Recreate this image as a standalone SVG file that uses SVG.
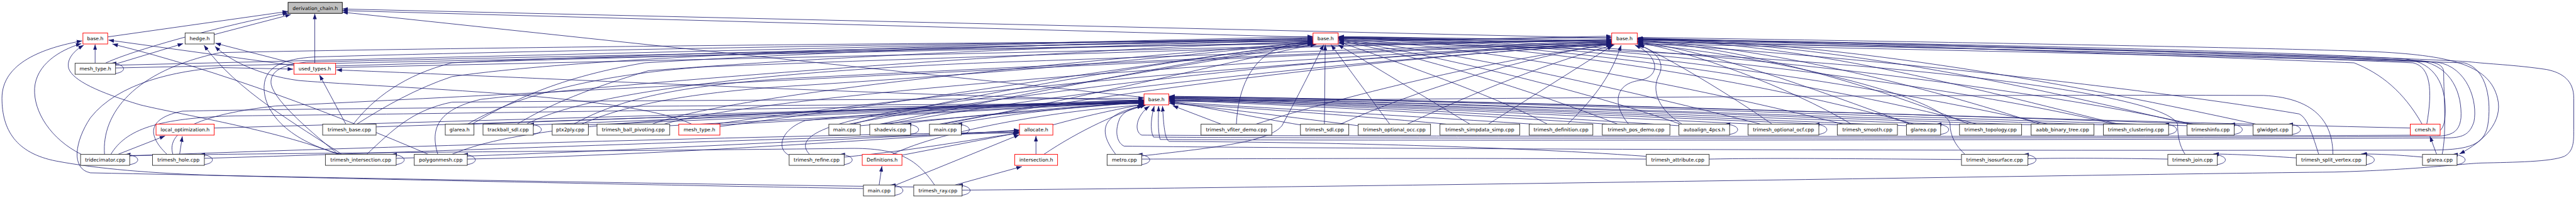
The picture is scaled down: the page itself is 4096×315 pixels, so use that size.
<svg xmlns="http://www.w3.org/2000/svg" width="4096" height="315" viewBox="0 0 4096 315">
<defs>
<marker id="a" viewBox="0 0 14 10" refX="14" refY="5" markerWidth="14" markerHeight="10" markerUnits="userSpaceOnUse" orient="auto"><path d="M0,0 L14,5 L0,10 z" fill="#191970"/></marker>
<style>
.e path{fill:none;stroke:#191970;stroke-width:1.3;marker-end:url(#a)}
.e path.p{marker-end:none}
rect{fill:#fff;stroke:#333;stroke-width:1.5}
rect.r{stroke:#ff0000}
rect.root{fill:#bfbfbf;stroke:#000}
text{font-family:"DejaVu Sans","Liberation Sans",sans-serif;font-size:12.5px;text-anchor:middle;fill:#000}
</style>
</defs>
<rect x="0" y="0" width="4096" height="315" style="fill:#fff;stroke:none"/>
<g transform="scale(0.6249)">
<g id="edges" class="e">
<path d="M274,94 L733,29"/>
<path d="M268,161 C320,135 520,75 733,33"/>
<path d="M545,88 L740,37"/>
<path d="M801,161 L801,35"/>
<path d="M2911,248 L871,31"/>
<path d="M3341,95 L871,27"/>
<path d="M4101,97 L871,23"/>
<path d="M242,161 L242,113"/>
<path d="M207,393 C130,355 85,285 88,225 C92,165 150,128 207,111"/>
<path d="M748,167 L276,102"/>
<path d="M2197,480 C1600,470 900,455 560,447 C380,441 250,430 143,410 C40,390 5,330 5,250 C5,160 110,122 209,104"/>
<path d="M861,393 C700,330 450,290 357,267 C250,235 186,205 175,175 C168,150 190,128 213,115"/>
<path d="M294,163 L466,111"/>
<path d="M750,162 L548,110"/>
<path d="M870,393 C760,320 600,230 519,115"/>
<path d="M1760,316 C1600,240 1000,225 760,205 C650,190 580,150 547,118"/>
<path d="M880,316 L813,191"/>
<path d="M2911,256 C2200,240 1300,195 856,178"/>
<path d="M854,168 L3341,96"/>
<path d="M294,166 L3341,93"/>
<path d="M294,173 L4101,92"/>
<path d="M854,172 L4101,100"/>
<path d="M1090,393 C850,290 560,180 286,112"/>
<path d="M300,393 L420,346"/>
<path d="M282,393 C320,330 400,300 600,295 C1500,285 2500,268 2911,262"/>
<path d="M330,397 C900,375 2000,345 2594,336"/>
<path d="M266,393 C258,290 340,180 560,134 C1200,120 2500,108 3341,104"/>
<path d="M457,393 L464,347"/>
<path d="M425,393 C370,340 380,300 464,283 C800,275 2200,266 2911,264"/>
<path d="M520,403 C1000,390 2000,350 2594,338"/>
<path d="M440,393 C420,330 520,290 700,270 C1500,230 3000,150 4101,108"/>
<path d="M545,326 L2911,259"/>
<path d="M868,393 C740,360 670,290 672,220 C674,170 720,150 800,145 C1500,125 2800,105 3341,100"/>
<path d="M861,393 C800,343 700,260 690,215 C685,180 720,165 780,158 C1600,140 3000,110 4101,104"/>
<path d="M933,393 C1000,330 1050,280 1150,260 C1800,255 2500,252 2911,250"/>
<path d="M1008,403 C1500,390 2200,350 2594,333"/>
<path d="M1114,393 C1095,330 1110,280 1223,253 C1700,200 2800,120 3341,106"/>
<path d="M1150,393 C1300,330 1600,290 2911,256"/>
<path d="M1189,405 C1700,395 2300,350 2594,331"/>
<path d="M908,316 C980,270 1060,225 1150,195 C1600,130 2800,105 3341,98"/>
<path d="M899,316 C950,250 1030,190 1150,160 C2000,120 3500,100 4101,96"/>
<path d="M957,323 L2911,258"/>
<path d="M1201,316 C1280,270 1400,200 1640,160 C2300,120 3000,105 3341,101"/>
<path d="M1206,316 L2911,254"/>
<path d="M1190,316 C1300,250 1500,190 1800,170 C2800,130 3700,110 4101,102"/>
<path d="M1316,316 C1400,265 1500,225 1650,180 C2300,130 3000,110 3341,103"/>
<path d="M1357,318 L2911,256"/>
<path d="M1340,316 C1500,230 2000,180 2500,160 C3200,135 3800,115 4101,105"/>
<path d="M1497,318 L2911,257"/>
<path d="M1460,316 C1560,260 1700,220 2000,200 C3000,150 3700,120 4101,107"/>
<path d="M1480,316 C1560,280 1700,240 2000,220 C2800,170 3200,120 3341,107"/>
<path d="M1704,320 L2911,258"/>
<path d="M1660,316 C1800,260 2400,180 3341,108"/>
<path d="M1690,316 C1900,250 3000,160 4101,110"/>
<path d="M1832,318 L2911,259"/>
<path d="M1832,322 C2300,260 3000,150 3341,110"/>
<path d="M1820,316 C2400,230 3500,140 4101,111"/>
<path d="M2189,320 L2911,260"/>
<path d="M2170,316 C2400,250 3000,150 3341,109"/>
<path d="M2160,316 C2600,230 3500,130 4101,112"/>
<path d="M2290,316 C2500,290 2800,265 2911,261"/>
<path d="M2260,316 C2700,230 3600,140 4101,113"/>
<path d="M2240,316 C2600,240 3100,140 3341,111"/>
<path d="M2420,316 C2600,285 2800,265 2911,262"/>
<path d="M2400,316 C2800,240 3200,140 3348,113"/>
<path d="M2390,316 C2900,220 3700,130 4105,113"/>
<path d="M2679,318 C2780,290 2860,275 2911,265"/>
<path d="M2008,395 C1975,380 1985,330 2049,307 C2300,280 2700,265 2911,263"/>
<path d="M2148,400 C2350,380 2500,350 2594,339"/>
<path d="M2060,393 C2000,330 2200,290 2500,250 C2900,190 3200,130 3350,113"/>
<path d="M2295,395 L2592,338"/>
<path d="M2270,393 C2400,330 2700,280 2913,267"/>
<path d="M2636,393 L2636,346"/>
<path d="M2656,393 C2750,330 2850,285 2915,268"/>
<path d="M2237,471 L2244,423"/>
<path d="M2277,472 L2594,343"/>
<path d="M2430,471 L2600,424"/>
<path d="M2325,476 C1500,465 800,452 230,440 C180,430 190,360 230,300 C300,210 450,180 560,172 L746,176"/>
<path class="p" d="M2378,471 C2330,400 2280,375 2150,378 C1500,385 700,390 331,396"/>
<path d="M3107,316 L2984,269"/>
<path d="M3146,316 C3150,230 3180,150 3260,120 C3290,110 3320,106 3341,104"/>
<path d="M3196,316 C3400,250 3800,150 4101,114"/>
<path d="M3370,316 L3372,114"/>
<path d="M3309,318 C3200,300 3050,270 2976,258"/>
<path d="M3411,316 C3600,230 3900,140 4101,111"/>
<path d="M3536,316 L3387,114"/>
<path d="M3581,316 C3700,260 3900,170 4108,114"/>
<path d="M3456,320 C3300,300 3100,275 2976,262"/>
<path d="M3740,316 L3405,114"/>
<path d="M3787,316 L4103,116"/>
<path d="M3680,316 C3400,290 3100,270 2975,263"/>
<path d="M3989,316 C4066,240 4101,187 4125,115"/>
<path d="M3937,316 C3800,240 3500,140 3406,106"/>
<path d="M3900,316 C3500,290 3100,268 2975,259"/>
<path d="M4144,316 C4105,270 4105,215 4170,205 C4230,195 4220,140 4160,115"/>
<path d="M4116,316 C3900,230 3600,140 3406,103"/>
<path d="M4090,316 C3700,290 3200,262 2975,256"/>
<path d="M4280,316 C4220,280 4200,230 4222,190 C4240,150 4200,125 4170,114"/>
<path d="M4273,315 C4000,220 3600,130 3406,101"/>
<path d="M4272,320 C3800,290 3300,262 2975,255"/>
<path d="M4509,316 C4400,240 4250,150 4166,112"/>
<path d="M4480,316 C4100,220 3700,130 3406,100"/>
<path d="M4460,316 C3900,290 3300,260 2975,254"/>
<path d="M4711,316 C4550,220 4300,130 4166,108"/>
<path d="M4690,316 C4300,220 3800,120 3406,99"/>
<path d="M4680,318 C4000,290 3300,258 2975,252"/>
<path d="M4860,316 C4600,220 4350,130 4166,106"/>
<path d="M4851,320 C4100,290 3400,258 2975,251"/>
<path d="M4870,316 C4500,210 3900,110 3406,98"/>
<path d="M5010,316 C4800,230 4450,120 4166,104"/>
<path d="M4995,318 C4200,290 3400,257 2975,250"/>
<path d="M5030,316 C4600,200 3900,105 3406,97"/>
<path d="M5190,316 C4900,220 4500,120 4166,102"/>
<path d="M5210,316 C4700,200 4000,105 3406,96"/>
<path d="M5175,318 C4300,290 3500,255 2975,249"/>
<path d="M5390,316 C5000,220 4600,110 4166,100"/>
<path d="M5380,316 C4900,200 4000,100 3406,95"/>
<path d="M5360,318 C4400,290 3500,255 2975,248"/>
<path d="M5570,316 C5200,230 4700,110 4166,99"/>
<path d="M5580,316 C5000,190 4000,95 3406,94"/>
<path d="M5565,320 C4600,290 3600,252 2975,247"/>
<path d="M5740,316 C5300,220 4700,105 4166,98"/>
<path d="M5733,320 C4800,290 3700,252 2975,246"/>
<path d="M6133,326 C5000,300 3800,255 2975,245"/>
<path d="M6163,316 C6116,233 6058,187 5990,160 C5500,140 4500,105 4166,97"/>
<path d="M6175,316 C6190,230 6185,170 6140,160 C5500,130 4000,100 3406,93"/>
<path d="M2839,393 C2793,333 2800,290 2908,270"/>
<path d="M2905,397 C3100,375 3230,360 3262,320 C3300,250 3340,170 3368,114"/>
<path d="M4189,398 C3800,370 3300,362 2975,360 C2962,355 2960,300 2958,270"/>
<path d="M5000,393 C4975,370 4962,345 4962,316 C4955,250 4500,140 4168,112"/>
<path d="M5560,393 C5545,370 5541,345 5541,316 C5500,220 4500,120 3406,110"/>
<path d="M5936,393 C5936,320 5900,250 5760,243 C5000,240 3800,250 2976,258"/>
<path d="M5900,393 C5880,330 5870,300 5850,290 C5500,230 4700,140 4168,110"/>
<path d="M6200,393 L6183,347"/>
<path d="M6164,400 C6100,394 6050,392 6008,392"/>
<path d="M6214,393 C6226,340 6218,240 6218,185 C6218,165 6200,157 6150,154 C5500,130 4700,105 4168,101"/>
<path d="M4168,95 C5000,108 5800,122 6050,132 C6250,142 6335,170 6355,250 C6370,310 6320,360 6258,392"/>
<path d="M2448,484 C3500,476 5300,445 5940,438 C6150,432 6250,418 6313,415 C6400,413 6490,412 6525,398 C6549,385 6549,360 6549,330 L6549,250 C6549,205 6520,185 6480,177 C6400,165 6330,163 6280,157 C6000,140 4800,110 4168,99"/>
<path d="M4166,99 C5000,112 5800,130 6120,150 C6200,160 6222,220 6222,280 C6222,330 6210,342 6170,344 C5000,350 3200,346 2905,344 C2885,335 2890,295 2925,270"/>
<path d="M4166,102 C5000,118 5850,138 6160,155 C6240,170 6265,240 6262,300 C6258,335 6240,345 6200,347 C5000,354 3300,352 2935,349 C2925,330 2930,295 2937,270"/>
<path d="M3405,95 C4500,110 5800,140 6200,158 C6280,170 6305,260 6295,310 C6285,340 6270,350 6230,351 C5000,358 3300,358 2952,355 C2945,330 2948,295 2948,270"/>
<path d="M3405,97 C4500,115 5900,150 6270,160 C6330,175 6340,260 6330,320 C6320,370 6280,380 6200,382 C5000,385 3300,378 2860,372 C2840,362 2836,330 2850,300 C2862,280 2890,272 2912,268"/>
<path class="p" d="M4189,405 C3700,402 3200,404 2906,405"/>
<path class="p" d="M4991,406 C4700,404 4500,402 4349,405"/>
<path class="p" d="M5516,405 C5400,403 5250,402 5160,404"/>
<path d="M5843,402 C5750,396 5700,393 5632,392"/>
<path d="M294,187 C324,183 322,163 282,161"/>
<path d="M330,419 C360,415 358,395 318,393"/>
<path d="M520,419 C550,415 548,395 508,393"/>
<path d="M1008,419 C1038,415 1036,395 996,393"/>
<path d="M1189,419 C1219,415 1217,395 1177,393"/>
<path d="M1357,342 C1387,338 1385,318 1345,316"/>
<path d="M2148,419 C2178,415 2176,395 2136,393"/>
<path d="M2317,342 C2347,338 2345,318 2305,316"/>
<path d="M2446,342 C2476,338 2474,318 2434,316"/>
<path d="M2277,497 C2307,493 2305,473 2265,471"/>
<path d="M2448,497 C2478,493 2476,473 2436,471"/>
<path d="M2905,419 C2935,415 2933,395 2893,393"/>
<path d="M4401,342 C4431,338 4429,318 4389,316"/>
<path d="M4628,342 C4658,338 4656,318 4616,316"/>
<path d="M4938,342 C4968,338 4966,318 4926,316"/>
<path d="M5160,419 C5190,415 5188,395 5148,393"/>
<path d="M5518,342 C5548,338 5546,318 5506,316"/>
<path d="M5685,342 C5715,338 5713,318 5673,316"/>
<path d="M5642,419 C5672,415 5670,395 5630,393"/>
<path d="M5833,342 C5863,338 5861,318 5821,316"/>
<path d="M6021,419 C6051,415 6049,395 6009,393"/>
<path d="M6252,419 C6282,415 6280,395 6240,393"/>
</g>
<g id="n_derivation_chain"><rect class="root" x="733" y="6" width="138" height="28"/><text x="802" y="25">derivation_chain.h</text></g>
<g id="n_base_1"><rect class="r" x="211" y="84" width="63" height="28"/><text x="242.5" y="103">base.h</text></g>
<g id="n_hedge"><rect x="471" y="84" width="74" height="28"/><text x="508" y="103">hedge.h</text></g>
<g id="n_base_2"><rect class="r" x="3341" y="84" width="64" height="28"/><text x="3373" y="103">base.h</text></g>
<g id="n_base_3"><rect class="r" x="4101" y="84" width="65" height="28"/><text x="4133.5" y="103">base.h</text></g>
<g id="n_mesh_type_1"><rect x="191" y="161" width="103" height="28"/><text x="242.5" y="180">mesh_type.h</text></g>
<g id="n_used_types"><rect class="r" x="748" y="161" width="106" height="28"/><text x="801" y="180">used_types.h</text></g>
<g id="n_base_4"><rect class="r" x="2911" y="239" width="63" height="28"/><text x="2942.5" y="258">base.h</text></g>
<g id="n_local_optimization"><rect class="r" x="397" y="316" width="148" height="28"/><text x="471" y="335">local_optimization.h</text></g>
<g id="n_trimesh_base"><rect x="821" y="316" width="136" height="28"/><text x="889" y="335">trimesh_base.cpp</text></g>
<g id="n_glarea_h"><rect x="1133" y="316" width="73" height="28"/><text x="1169.5" y="335">glarea.h</text></g>
<g id="n_trackball_sdl"><rect x="1229" y="316" width="128" height="28"/><text x="1293" y="335">trackball_sdl.cpp</text></g>
<g id="n_ptx2ply"><rect x="1405" y="316" width="92" height="28"/><text x="1451" y="335">ptx2ply.cpp</text></g>
<g id="n_ball_pivoting"><rect x="1519" y="316" width="185" height="28"/><text x="1611.5" y="335">trimesh_ball_pivoting.cpp</text></g>
<g id="n_mesh_type_2"><rect class="r" x="1727" y="316" width="105" height="28"/><text x="1779.5" y="335">mesh_type.h</text></g>
<g id="n_main_1"><rect x="2109" y="316" width="80" height="28"/><text x="2149" y="335">main.cpp</text></g>
<g id="n_shadevis"><rect x="2213" y="316" width="104" height="28"/><text x="2265" y="335">shadevis.cpp</text></g>
<g id="n_main_2"><rect x="2365" y="316" width="81" height="28"/><text x="2405.5" y="335">main.cpp</text></g>
<g id="n_allocate"><rect class="r" x="2594" y="316" width="85" height="28"/><text x="2636.5" y="335">allocate.h</text></g>
<g id="n_vfiter_demo"><rect x="3056" y="316" width="180" height="28"/><text x="3146" y="335">trimesh_vfiter_demo.cpp</text></g>
<g id="n_trimesh_sdl"><rect x="3309" y="316" width="123" height="28"/><text x="3370.5" y="335">trimesh_sdl.cpp</text></g>
<g id="n_optional_occ"><rect x="3456" y="316" width="184" height="28"/><text x="3548" y="335">trimesh_optional_occ.cpp</text></g>
<g id="n_simpdata_simp"><rect x="3664" y="316" width="203" height="28"/><text x="3765.5" y="335">trimesh_simpdata_simp.cpp</text></g>
<g id="n_definition"><rect x="3891" y="316" width="162" height="28"/><text x="3972" y="335">trimesh_definition.cpp</text></g>
<g id="n_pos_demo"><rect x="4077" y="316" width="172" height="28"/><text x="4163" y="335">trimesh_pos_demo.cpp</text></g>
<g id="n_autoalign"><rect x="4272" y="316" width="129" height="28"/><text x="4336.5" y="335">autoalign_4pcs.h</text></g>
<g id="n_optional_ocf"><rect x="4448" y="316" width="180" height="28"/><text x="4538" y="335">trimesh_optional_ocf.cpp</text></g>
<g id="n_smooth"><rect x="4675" y="316" width="153" height="28"/><text x="4751.5" y="335">trimesh_smooth.cpp</text></g>
<g id="n_glarea_cpp_1"><rect x="4851" y="316" width="87" height="28"/><text x="4894.5" y="335">glarea.cpp</text></g>
<g id="n_topology"><rect x="4986" y="316" width="158" height="28"/><text x="5065" y="335">trimesh_topology.cpp</text></g>
<g id="n_aabb"><rect x="5168" y="316" width="160" height="28"/><text x="5248" y="335">aabb_binary_tree.cpp</text></g>
<g id="n_clustering"><rect x="5352" y="316" width="166" height="28"/><text x="5435" y="335">trimesh_clustering.cpp</text></g>
<g id="n_trimeshinfo"><rect x="5565" y="316" width="120" height="28"/><text x="5625" y="335">trimeshinfo.cpp</text></g>
<g id="n_glwidget"><rect x="5733" y="316" width="100" height="28"/><text x="5783" y="335">glwidget.cpp</text></g>
<g id="n_cmesh"><rect class="r" x="6133" y="316" width="76" height="28"/><text x="6171" y="335">cmesh.h</text></g>
<g id="n_tridecimator"><rect x="205" y="393" width="125" height="28"/><text x="267.5" y="412">tridecimator.cpp</text></g>
<g id="n_hole"><rect x="388" y="393" width="132" height="28"/><text x="454" y="412">trimesh_hole.cpp</text></g>
<g id="n_intersection_cpp"><rect x="828" y="393" width="180" height="28"/><text x="918" y="412">trimesh_intersection.cpp</text></g>
<g id="n_polygonmesh"><rect x="1054" y="393" width="135" height="28"/><text x="1121.5" y="412">polygonmesh.cpp</text></g>
<g id="n_refine"><rect x="2008" y="393" width="140" height="28"/><text x="2078" y="412">trimesh_refine.cpp</text></g>
<g id="n_definitions"><rect class="r" x="2194" y="393" width="101" height="28"/><text x="2244.5" y="412">Definitions.h</text></g>
<g id="n_intersection_h"><rect class="r" x="2582" y="393" width="109" height="28"/><text x="2636.5" y="412">intersection.h</text></g>
<g id="n_metro"><rect x="2817" y="393" width="88" height="28"/><text x="2861" y="412">metro.cpp</text></g>
<g id="n_attribute"><rect x="4189" y="393" width="160" height="28"/><text x="4269" y="412">trimesh_attribute.cpp</text></g>
<g id="n_isosurface"><rect x="4991" y="393" width="169" height="28"/><text x="5075.5" y="412">trimesh_isosurface.cpp</text></g>
<g id="n_join"><rect x="5516" y="393" width="126" height="28"/><text x="5579" y="412">trimesh_join.cpp</text></g>
<g id="n_split_vertex"><rect x="5843" y="393" width="178" height="28"/><text x="5932" y="412">trimesh_split_vertex.cpp</text></g>
<g id="n_glarea_cpp_2"><rect x="6164" y="393" width="88" height="28"/><text x="6208" y="412">glarea.cpp</text></g>
<g id="n_main_3"><rect x="2197" y="471" width="80" height="28"/><text x="2237" y="490">main.cpp</text></g>
<g id="n_trimesh_ray"><rect x="2325" y="471" width="123" height="28"/><text x="2386.5" y="490">trimesh_ray.cpp</text></g>
</g>
</svg>
